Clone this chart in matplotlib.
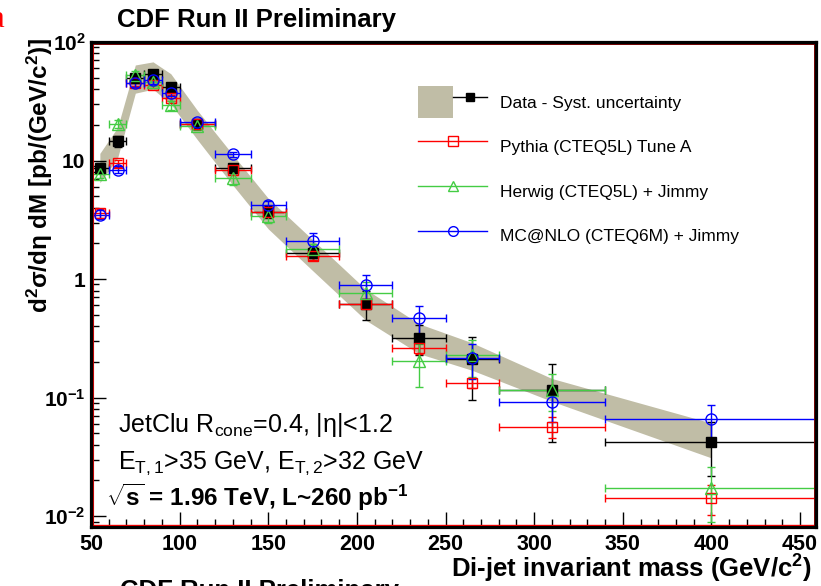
import matplotlib
matplotlib.use("Agg")
import matplotlib.pyplot as plt
from matplotlib.patches import Patch
from matplotlib.lines import Line2D
from matplotlib.legend_handler import HandlerTuple
from matplotlib.ticker import FixedLocator, FixedFormatter, MultipleLocator, LogLocator, NullFormatter

plt.rcParams['font.family'] = ['Liberation Sans', 'DejaVu Sans']
plt.rcParams['mathtext.fontset'] = 'custom'
plt.rcParams['mathtext.rm'] = 'Liberation Sans'
plt.rcParams['mathtext.bf'] = 'Liberation Sans:bold'
plt.rcParams['mathtext.it'] = 'Liberation Sans:italic'
plt.rcParams['mathtext.sf'] = 'Liberation Sans'

# ---- data ----
bin_lo = [50, 60, 70, 80, 90, 100, 120, 140, 160, 190, 220, 250, 280, 340]
bin_hi = [60, 70, 80, 90, 100, 120, 140, 160, 190, 220, 250, 280, 340, 460]
mass = [55, 65, 75, 85, 95, 110, 130, 150, 175, 205, 235, 265, 310, 400]

data = [8.7, 14.5, 50, 54, 41.8, 20.5, 8.6, 3.7, 1.65, 0.62, 0.32, 0.21, 0.117, 0.042]
data_err = [0.8, 1.5, 4, 4, 3.5, 1.5, 0.8, 0.4, 0.2, 0.17, 0.09, 0.115, 0.075, 0.02]
syst_hi = [11.5, 19, 64, 68, 54, 26.5, 11.2, 4.8, 2.15, 0.82, 0.42, 0.29, 0.145, 0.061]
syst_lo = [6.5, 10.5, 37, 40, 30, 15, 6.2, 2.65, 1.18, 0.45, 0.235, 0.17, 0.093, 0.031]

pythia = [3.6, 9.5, 44.7, 43.2, 34, 20.5, 8.4, 3.65, 1.56, 0.62, 0.264, 0.133, 0.057, 0.0142]
pythia_err = [0.3, 0.6, 2.5, 2.5, 2, 1.2, 0.5, 0.25, 0.1, 0.05, 0.03, 0.012, 0.011, 0.004]

herwig = [7.7, 20.3, 52.6, 46.1, 29.3, 19.5, 7.06, 3.4, 1.78, 0.757, 0.204, 0.229, 0.117, 0.0174]
herwig_err = [0.6, 1.5, 4, 3.5, 2.5, 1.5, 0.9, 0.4, 0.2, 0.18, 0.08, 0.08, 0.04, 0.0085]

mcnlo = [3.5, 8.4, 44.7, 47.6, 37.2, 21.2, 11.3, 4.2, 2.1, 0.885, 0.466, 0.214, 0.092, 0.0656]
mcnlo_err = [0.3, 0.6, 3, 3, 2.5, 1.2, 0.6, 0.4, 0.33, 0.2, 0.13, 0.07, 0.03, 0.021]

x_ticks = [50, 100, 150, 200, 250, 300, 350, 400, 450]
y_ticks = [1e-2, 1e-1, 1, 10, 100]
y_tick_labels = [r"10$^{\mathbf{-2}}$", r"10$^{\mathbf{-1}}$", "1", "10", r"10$^{\mathbf{2}}$"]

labels = ["Data - Syst. uncertainty", "Pythia (CTEQ5L) Tune A",
          "Herwig (CTEQ5L) + Jimmy", "MC@NLO (CTEQ6M) + Jimmy"]

# ---- figure ----
W, H = 821, 586
fig = plt.figure(figsize=(W / 100, H / 100), dpi=100)
L, R, T, B = 91, 816, 42, 527
ax = fig.add_axes([L / W, 1 - B / H, (R - L) / W, (B - T) / H])
ax.set_yscale('log')
ax.set_xlim(50, 459)
ax.set_ylim(0.0081, 100)

band_col = '#c0bda6'
ax.fill_between(mass, syst_lo, syst_hi, color=band_col, lw=0, zorder=1)

xerr_lo = [m - a for m, a in zip(mass, bin_lo)]
xerr_hi = [b - m for m, b in zip(mass, bin_hi)]
xerr = [xerr_lo, xerr_hi]

ekw = dict(linestyle='none', capsize=3, elinewidth=1.0, capthick=1.0, zorder=3)
green = '#44cc44'
ax.errorbar(mass, data, yerr=data_err, xerr=xerr, fmt='s', color='black', ms=7, **ekw)
ax.errorbar(mass, pythia, yerr=pythia_err, xerr=xerr, fmt='s', color='red', ms=7.5,
            mfc='none', mew=1.0, **ekw)
ax.errorbar(mass, herwig, yerr=herwig_err, xerr=xerr, fmt='^', color=green, ms=8,
            mfc='none', mew=1.0, **ekw)
ax.errorbar(mass, mcnlo, yerr=mcnlo_err, xerr=xerr, fmt='o', color='blue', ms=8,
            mfc='none', mew=1.0, **ekw)

# ---- axes style ----
ax.xaxis.set_major_locator(FixedLocator(x_ticks))
ax.xaxis.set_minor_locator(MultipleLocator(10))
ax.yaxis.set_major_locator(FixedLocator(y_ticks))
ax.yaxis.set_major_formatter(FixedFormatter(y_tick_labels))
ax.yaxis.set_minor_locator(LogLocator(base=10, subs=range(2, 10)))
ax.yaxis.set_minor_formatter(NullFormatter())
ax.tick_params(axis='x', which='major', direction='in', length=10.5, width=1.0,
               labelsize=15.5, pad=5, top=False)
ax.tick_params(axis='x', which='minor', direction='in', length=5.5, width=1.0, top=False)
ax.tick_params(axis='y', which='major', direction='in', length=11, width=1.0,
               labelsize=15, pad=4, right=False)
ax.tick_params(axis='y', which='minor', direction='in', length=6, width=1.0, right=False)
for lab in ax.get_xticklabels() + ax.get_yticklabels():
    lab.set_fontweight('bold')
for s in ax.spines.values():
    s.set_linewidth(2.3)
    s.set_zorder(5)
# thin red inner frame lines (ROOT artifact)
dx, dy = 2.0 / (R - L), 2.0 / (B - T)
ax.add_line(Line2D([dx, 1 - dx], [dy, dy], transform=ax.transAxes, color='red', lw=1.0,
                   zorder=4, clip_on=False))
ax.add_line(Line2D([dx, dx], [dy, 1 - dy], transform=ax.transAxes, color='#cc0000', lw=0.8,
                   zorder=4, clip_on=False))
ax.add_line(Line2D([dx, 1 - dx], [1 - dy, 1 - dy], transform=ax.transAxes, color='#7a0000',
                   lw=0.7, zorder=4, clip_on=False))
ax.add_line(Line2D([1 - dx, 1 - dx], [dy, 1 - dy], transform=ax.transAxes, color='#7a0000',
                   lw=0.7, zorder=4, clip_on=False))

# ---- legend ----
h_data = (Patch(facecolor=band_col, edgecolor='none'),
          Line2D([], [], color='black', lw=1.0, marker='s', ms=6))
h_py = Line2D([], [], color='red', lw=1.0, marker='s', ms=7, mfc='none')
h_hw = Line2D([], [], color=green, lw=1.0, marker='^', ms=7, mfc='none')
h_mc = Line2D([], [], color='blue', lw=1.0, marker='o', ms=7, mfc='none')
leg = ax.legend([h_data, h_py, h_hw, h_mc], labels,
                handler_map={tuple: HandlerTuple(ndivide=None, pad=0)},
                loc='upper left', bbox_to_anchor=(418 / W, 1 - 86 / H),
                bbox_transform=fig.transFigure, frameon=False, fontsize=12.5,
                borderpad=0, borderaxespad=0, handlelength=4.0, handleheight=2.5,
                labelspacing=0.7, handletextpad=0.7, numpoints=1)

# ---- texts ----
def fx(px):
    return px / W

def fy(py):
    return 1 - py / H

fig.text(fx(117), fy(27), "CDF Run II Preliminary", fontsize=18.5, fontweight='bold',
         ha='left', va='baseline')
fig.text(fx(-9), fy(27), "a", fontsize=22, color='red', family='Liberation Serif',
         ha='left', va='baseline')
fig.text(fx(120), fy(598), "CDF Run II Preliminary", fontsize=18.5, fontweight='bold',
         ha='left', va='baseline')

fig.text(fx(40), fy(38), r"d$^{\mathbf{2}}$σ/dη dM [pb/(GeV/c$^{\mathbf{2}}$)]",
         rotation=90, fontsize=17.5, fontweight='bold', ha='center', va='top')
fig.text(fx(812), fy(578), r"Di-jet invariant mass (GeV/c$^{\mathbf{2}}$)",
         fontsize=18.5, fontweight='bold', ha='right', va='baseline')

fig.text(fx(118), fy(432), r"JetClu R$_{\rm cone}$=0.4, |η|<1.2", fontsize=18,
         ha='left', va='baseline')
fig.text(fx(118), fy(469), r"E$_{\rm T,1}$>35 GeV, E$_{\rm T,2}$>32 GeV", fontsize=18,
         ha='left', va='baseline')
fig.text(fx(106), fy(506), r"$\sqrt{\mathbf{s}}$ = 1.96 TeV, L~260 pb$^{\mathbf{-1}}$",
         fontsize=17.5, fontweight='bold', ha='left', va='baseline')

fig.savefig("out.png", dpi=100)
